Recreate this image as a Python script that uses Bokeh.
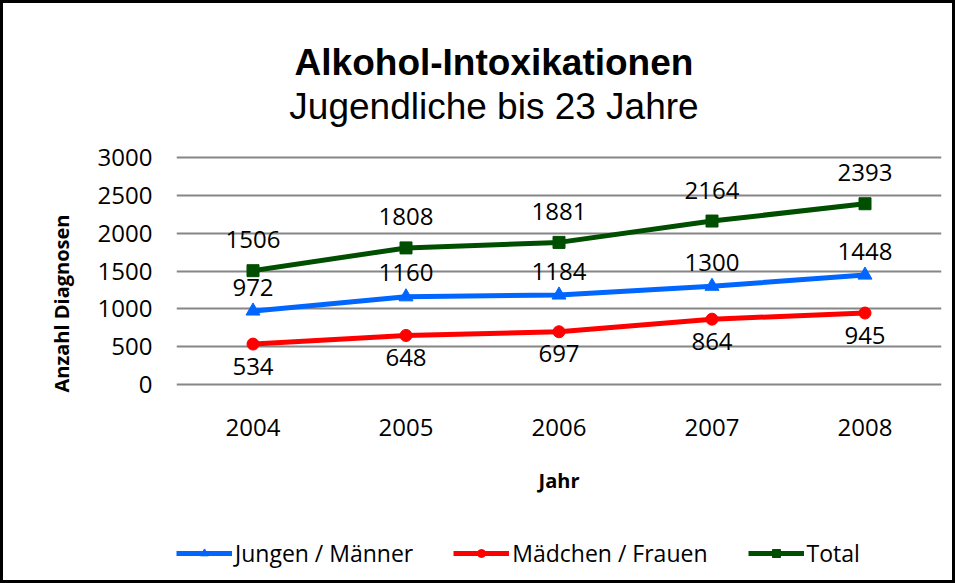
from bokeh.plotting import figure
from bokeh.models import (ColumnDataSource, Range1d, FactorRange, LabelSet,
                          Legend, LegendItem, FixedTicker)
from bokeh.core.properties import value
from bokeh.embed import file_html
from bokeh.resources import INLINE

years = ["2004", "2005", "2006", "2007", "2008"]
jungen = [972, 1160, 1184, 1300, 1448]
maedchen = [534, 648, 697, 864, 945]
total = [1506, 1808, 1881, 2164, 2393]
y_ticks = [0, 500, 1000, 1500, 2000, 2500, 3000]

title_text = "Alkohol-Intoxikationen"
subtitle_text = "Jugendliche bis 23 Jahre"
x_label = "Jahr"
y_label = "Anzahl Diagnosen"
series_names = ["Jungen / Männer", "Mädchen / Frauen", "Total"]

BLUE = "#0066FF"
RED = "#FF0000"
GREEN = "#004F00"
FONT = "Open Sans"
FS = "24px"

# layout geometry (pixels): value axis 0..3000 spans 224 px; the frame is extended
# above and below so titles, category labels and legend sit inside it
AXIS_PX = 224.0
PX_BELOW_ZERO = 195.0
PX_ABOVE_TOP = 131.0
y_start = -PX_BELOW_ZERO * y_ticks[-1] / AXIS_PX
y_end = y_ticks[-1] + PX_ABOVE_TOP * y_ticks[-1] / AXIS_PX

src = ColumnDataSource(dict(
    year=years,
    jungen=jungen, jungen_t=[str(v) for v in jungen],
    maedchen=maedchen, maedchen_t=[str(v) for v in maedchen],
    total=total, total_t=[str(v) for v in total],
))

p = figure(x_range=FactorRange(*years), y_range=Range1d(y_start, y_end),
           width=955, height=583, output_backend="svg", toolbar_location=None,
           x_axis_location=None,
           min_border_left=173, min_border_top=22, min_border_right=17,
           min_border_bottom=5, outline_line_color=None)
p.styles = {"border": "3px solid black"}

# value axis
ticker = FixedTicker(ticks=y_ticks)
p.yaxis.ticker = ticker
p.ygrid.ticker = ticker
p.yaxis.axis_line_color = None
p.yaxis.major_tick_line_color = None
p.yaxis.minor_tick_line_color = None
p.yaxis.major_tick_out = 0
p.yaxis.major_tick_in = 0
p.yaxis.major_label_text_font = FONT
p.yaxis.major_label_text_font_size = FS
p.yaxis.major_label_text_color = "black"
p.yaxis.major_label_standoff = 24
p.yaxis.axis_label = y_label
p.yaxis.axis_label_text_font = FONT
p.yaxis.axis_label_text_font_style = "bold"
p.yaxis.axis_label_text_font_size = "20px"
p.yaxis.axis_label_text_color = "black"
p.yaxis.axis_label_standoff = 20

p.xgrid.grid_line_color = None
p.ygrid.grid_line_color = "#868686"
p.ygrid.grid_line_width = 2

# series
lj = p.line("year", "jungen", source=src, line_color=BLUE, line_width=5)
mj = p.scatter("year", "jungen", source=src, marker="triangle", size=14,
               fill_color=BLUE, line_color=BLUE)
lm = p.line("year", "maedchen", source=src, line_color=RED, line_width=5)
mm = p.scatter("year", "maedchen", source=src, marker="circle", size=12,
               fill_color=RED, line_color=RED)
lt = p.line("year", "total", source=src, line_color=GREEN, line_width=5)
mt = p.scatter("year", "total", source=src, marker="square", size=12,
               fill_color=GREEN, line_color=GREEN)

# data labels
for col, off in (("total", 31), ("jungen", 24), ("maedchen", -22)):
    p.add_layout(LabelSet(x="year", y=col, text=col + "_t", source=src,
                          y_offset=off, text_align="center", text_baseline="middle",
                          text_font=value(FONT), text_font_size=value(FS),
                          text_color="black"))

# category labels under the value axis
p.add_layout(LabelSet(x="year", y=0, text="year", source=src, y_offset=-43,
                      text_align="center", text_baseline="middle",
                      text_font=value(FONT), text_font_size=value(FS),
                      text_color="black"))

# axis title and chart titles
txt_src = ColumnDataSource(dict(
    x=[years[2], years[2], years[2]],
    t=[x_label, title_text, subtitle_text],
))
p.add_layout(LabelSet(x="x", y=0, text="t", source=ColumnDataSource(dict(x=[years[2]], t=[x_label])),
                      y_offset=-96, text_align="center", text_baseline="middle",
                      text_font=value(FONT), text_font_style="bold",
                      text_font_size=value("20px"), text_color="black"))
p.add_layout(LabelSet(x="x", y=0, text="t", source=ColumnDataSource(dict(x=[years[2]], t=[title_text])),
                      x_offset=-65, y_offset=322, text_align="center", text_baseline="middle",
                      text_font=value("Liberation Sans"), text_font_style="bold",
                      text_font_size=value("37px"), text_color="black"))
p.add_layout(LabelSet(x="x", y=0, text="t", source=ColumnDataSource(dict(x=[years[2]], t=[subtitle_text])),
                      x_offset=-65, y_offset=278, text_align="center", text_baseline="middle",
                      text_font=value("Liberation Sans"), text_font_style="normal",
                      text_font_size=value("37px"), text_color="black"))

legend = Legend(items=[
    LegendItem(label=series_names[0], renderers=[lj, mj]),
    LegendItem(label=series_names[1], renderers=[lm, mm]),
    LegendItem(label=series_names[2], renderers=[lt, mt]),
], orientation="horizontal", location=(0, 12), glyph_width=56, glyph_height=20,
    label_standoff=3, spacing=40, padding=0, margin=0,
    border_line_color=None, background_fill_alpha=0,
    label_text_font=FONT, label_text_font_size="23px", label_text_color="black")
p.add_layout(legend, "center")

open("out.html", "w").write(file_html(p, INLINE))
